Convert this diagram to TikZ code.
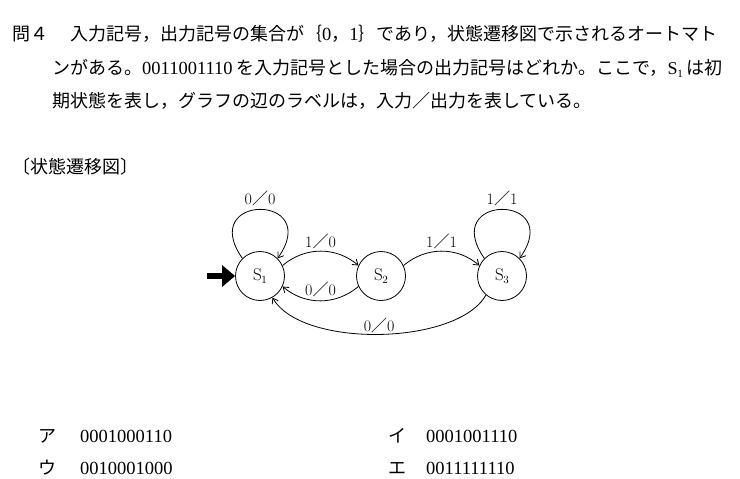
\documentclass[tikz,border=0pt]{standalone}
\usepackage{fontspec}
\setmainfont{Liberation Serif}
\newfontfamily\jp{Noto Sans CJK JP}
\newfontfamily\lmfont{Latin Modern Roman}
\usetikzlibrary{arrows.meta}
\newcommand{\dg}[1]{{\rmfamily\fontsize{18.5}{18.5}\selectfont #1}}
\newcommand{\ssub}{{\rmfamily\fontsize{18}{18}\selectfont S\kern-0.3pt\raisebox{-3pt}{\fontsize{11}{11}\selectfont 1}}}
\newcommand{\stlab}[1]{S\kern-0.3pt\raisebox{-3.5pt}{\fontsize{11}{11}\selectfont #1}}
\tikzset{
  txt/.style={anchor=base west, inner sep=0pt, font=\jp\fontsize{18}{20}\selectfont},
  state/.style={circle, draw, line width=0.8pt, minimum size=49pt, inner sep=0pt,
    font=\lmfont\fontsize{17}{17}\selectfont},
  trans/.style={line width=0.8pt, -{Straight Barb[length=5pt,width=7pt]}},
  lab/.style={font=\lmfont\fontsize{16}{16}\selectfont, inner sep=0pt},
  initarrow/.style={line width=6.5pt, -{Triangle[length=13pt,width=21pt]}},
}
\begin{document}
\begin{tikzpicture}[x=1pt,y=1pt]
\useasboundingbox[fill=white] (0,0) rectangle (740,-479);
% question text
\node[txt] (q1h) at (12,-41) {問４};
\node[txt] (q1) at (70,-41) {入力記号，出力記号の集合が｛\dg{0}，\dg{1}｝であり，状態遷移図で示されるオートマト};
\node[txt] (q2) at (52,-74) {ンがある。\dg{0011001110} を入力記号とした場合の出力記号はどれか。ここで，\ssub\ は初};
\node[txt] (q3) at (52,-107) {期状態を表し，グラフの辺のラベルは，入力／出力を表している。};
\node[txt] (head) at (12,-173) {〔状態遷移図〕};
% states
\node[state] (s1) at (260,-276) {\stlab{1}};
\node[state] (s2) at (381,-276) {\stlab{2}};
\node[state] (s3) at (502,-276) {\stlab{3}};
\coordinate (init) at (207,-276);
\draw[initarrow] (init) -- (s1.west);
% transitions
\draw[trans] (s1.135) to[out=125,in=55,looseness=5.8] node[lab,above=3pt] {0{\jp ／}0} (s1.45);
\draw[trans] (s3.135) to[out=125,in=55,looseness=5.8] node[lab,above=3pt] {1{\jp ／}1} (s3.45);
\draw[trans] (s1.25) to[out=40,in=140] node[lab,above=2pt] {1{\jp ／}0} (s2.155);
\draw[trans] (s2.205) to[out=220,in=320] node[lab,above=4pt] {0{\jp ／}0} (s1.335);
\draw[trans] (s2.25) to[out=40,in=140] node[lab,above=2pt] {1{\jp ／}1} (s3.155);
\draw[trans] (s3.230) to[out=240,in=300,looseness=0.7] node[lab,above=1pt] {0{\jp ／}0} (s1.300);
% options
\node[txt] (oa) at (38,-442) {ア\hspace{24pt}\dg{0001000110}};
\node[txt] (oi) at (388,-442) {イ\hspace{20pt}\dg{0001001110}};
\node[txt] (ou) at (38,-474) {ウ\hspace{24pt}\dg{0010001000}};
\node[txt] (oe) at (388,-474) {エ\hspace{20pt}\dg{0011111110}};
\end{tikzpicture}
\end{document}
